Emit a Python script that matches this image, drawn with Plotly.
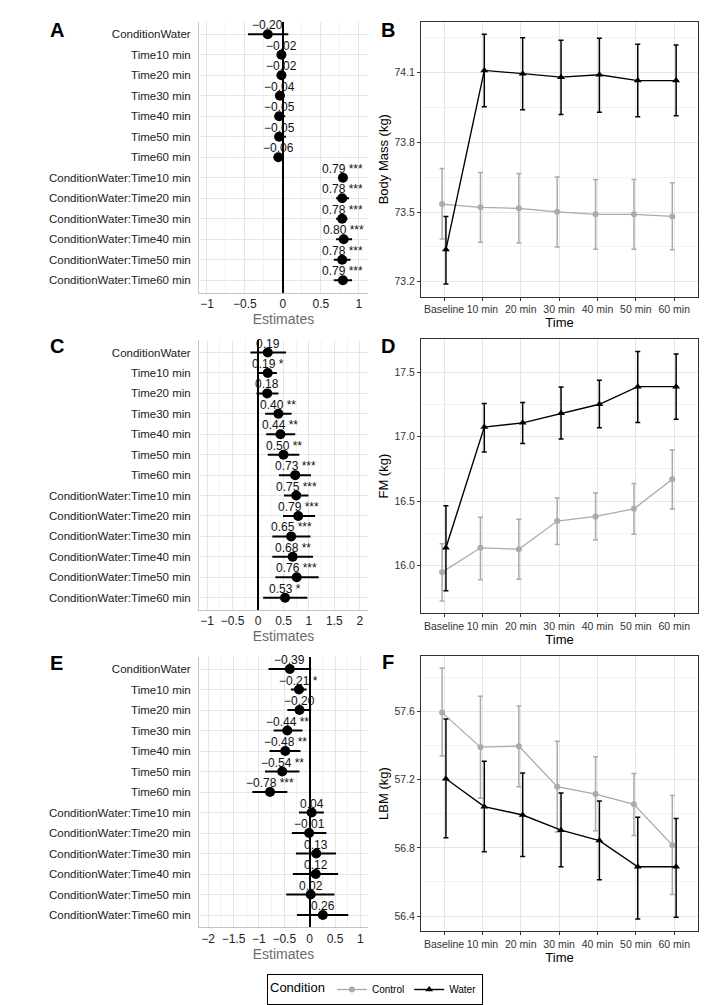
import plotly.graph_objects as go

W, H = 718, 1005
FONT = "Liberation Sans, Arial, sans-serif"

# ---------------- forest-plot data ----------------
terms = ["ConditionWater", "Time10 min", "Time20 min", "Time30 min", "Time40 min",
         "Time50 min", "Time60 min", "ConditionWater:Time10 min", "ConditionWater:Time20 min",
         "ConditionWater:Time30 min", "ConditionWater:Time40 min", "ConditionWater:Time50 min",
         "ConditionWater:Time60 min"]

a_est = [-0.20, -0.02, -0.02, -0.04, -0.05, -0.05, -0.06, 0.79, 0.78, 0.78, 0.80, 0.78, 0.79]
a_lo = [-0.46, -0.05, -0.05, -0.075, -0.085, -0.09, -0.12, 0.74, 0.70, 0.70, 0.70, 0.67, 0.67]
a_hi = [0.07, 0.01, 0.01, 0.026, 0.03, 0.04, 0.01, 0.835, 0.87, 0.85, 0.91, 0.89, 0.91]
a_sig = ["", "", "", "", "", "", "", "***", "***", "***", "***", "***", "***"]

c_est = [0.19, 0.19, 0.18, 0.40, 0.44, 0.50, 0.73, 0.75, 0.79, 0.65, 0.68, 0.76, 0.53]
c_lo = [-0.15, 0.01, -0.03, 0.14, 0.16, 0.19, 0.41, 0.51, 0.49, 0.28, 0.28, 0.34, 0.10]
c_hi = [0.55, 0.37, 0.40, 0.66, 0.73, 0.81, 1.04, 0.99, 1.12, 1.03, 1.08, 1.19, 0.97]
c_sig = ["", "*", "", "**", "**", "**", "***", "***", "***", "***", "**", "***", "*"]

e_est = [-0.39, -0.21, -0.20, -0.44, -0.48, -0.54, -0.78, 0.04, -0.01, 0.13, 0.12, 0.02, 0.26]
e_lo = [-0.81, -0.37, -0.44, -0.71, -0.79, -0.88, -1.13, -0.21, -0.35, -0.27, -0.33, -0.46, -0.25]
e_hi = [0.03, -0.06, 0.03, -0.14, -0.18, -0.20, -0.44, 0.28, 0.33, 0.52, 0.56, 0.49, 0.76]
e_sig = ["", "*", "", "**", "**", "**", "***", "", "", "", "", "", ""]

# ---------------- line-plot data ----------------
times = ["Baseline", "10 min", "20 min", "30 min", "40 min", "50 min", "60 min"]

bm_ctrl = [73.534, 73.52, 73.516, 73.501, 73.49, 73.49, 73.481]
bm_ctrl_lo = [73.384, 73.37, 73.366, 73.349, 73.34, 73.34, 73.337]
bm_ctrl_hi = [73.687, 73.67, 73.666, 73.651, 73.64, 73.64, 73.626]
bm_water = [73.338, 74.11, 74.096, 74.081, 74.091, 74.066, 74.066]
bm_water_lo = [73.19, 73.953, 73.94, 73.92, 73.93, 73.91, 73.915]
bm_water_hi = [73.481, 74.266, 74.251, 74.24, 74.249, 74.223, 74.219]

fm_ctrl = [15.948, 16.137, 16.126, 16.345, 16.381, 16.44, 16.67]
fm_ctrl_lo = [15.724, 15.889, 15.892, 16.162, 16.198, 16.242, 16.438]
fm_ctrl_hi = [16.168, 16.374, 16.358, 16.523, 16.562, 16.637, 16.897]
fm_water = [16.137, 17.075, 17.108, 17.183, 17.252, 17.389, 17.389]
fm_water_lo = [15.804, 16.881, 16.948, 16.982, 17.069, 17.111, 17.136]
fm_water_hi = [16.464, 17.258, 17.265, 17.386, 17.438, 17.662, 17.642]

lbm_ctrl = [57.594, 57.391, 57.397, 57.159, 57.116, 57.056, 56.816]
lbm_ctrl_lo = [57.339, 57.091, 57.159, 56.893, 56.900, 56.872, 56.527]
lbm_ctrl_hi = [57.856, 57.690, 57.633, 57.426, 57.335, 57.237, 57.108]
lbm_water = [57.206, 57.042, 56.993, 56.904, 56.843, 56.689, 56.689]
lbm_water_lo = [56.859, 56.777, 56.749, 56.689, 56.613, 56.383, 56.392]
lbm_water_hi = [57.557, 57.309, 57.239, 57.122, 57.075, 56.980, 56.972]

GRAY = "#ababab"


def dx(a, b):
    return [a / W, b / W]


def dy(top, bottom):
    return [1 - bottom / H, 1 - top / H]


def fmt(v):
    s = f"{abs(v):.2f}"
    return ("\u2212" + s) if v < 0 else s


fig = go.Figure()
ann = []

forest = [
    ("x", "y", a_est, a_lo, a_hi, a_sig),
    ("x2", "y2", c_est, c_lo, c_hi, c_sig),
    ("x3", "y3", e_est, e_lo, e_hi, e_sig),
]
rows = list(range(len(terms)))
for xa, ya, est, lo, hi, sig in forest:
    labels = [(fmt(v) + (" " + s if s else "")) for v, s in zip(est, sig)]
    fig.add_trace(go.Scatter(
        x=est, y=rows, xaxis=xa, yaxis=ya, mode="markers",
        marker=dict(size=10, color="black"),
        error_x=dict(type="data", symmetric=False,
                     array=[h - e for h, e in zip(hi, est)],
                     arrayminus=[e - l for e, l in zip(est, lo)],
                     color="black", thickness=2, width=0),
        cliponaxis=False, showlegend=False, hoverinfo="skip"))
    for v, r, lab in zip(est, rows, labels):
        ann.append(dict(text=lab, x=v, y=r, xref=xa, yref=ya, showarrow=False,
                        xanchor="center", yanchor="middle", yshift=9,
                        font=dict(size=12, color="#111111", family=FONT)))

lines = [
    ("x4", "y4", bm_ctrl, bm_ctrl_lo, bm_ctrl_hi, bm_water, bm_water_lo, bm_water_hi, True),
    ("x5", "y5", fm_ctrl, fm_ctrl_lo, fm_ctrl_hi, fm_water, fm_water_lo, fm_water_hi, False),
    ("x6", "y6", lbm_ctrl, lbm_ctrl_lo, lbm_ctrl_hi, lbm_water, lbm_water_lo, lbm_water_hi, False),
]
dodge = 0.05
idx = list(range(len(times)))
for xa, ya, cm, cl, ch, wm, wl, wh, leg in lines:
    fig.add_trace(go.Scatter(
        x=[i - dodge for i in idx], y=cm, xaxis=xa, yaxis=ya, mode="lines+markers",
        name="Control", legendgroup="c", showlegend=leg,
        line=dict(color=GRAY, width=1.3), marker=dict(color=GRAY, size=6, symbol="circle"),
        error_y=dict(type="data", symmetric=False,
                     array=[h - m for h, m in zip(ch, cm)],
                     arrayminus=[m - l for m, l in zip(cm, cl)],
                     color=GRAY, thickness=1.5, width=2.5)))
    fig.add_trace(go.Scatter(
        x=[i + dodge for i in idx], y=wm, xaxis=xa, yaxis=ya, mode="lines+markers",
        name="Water", legendgroup="w", showlegend=leg,
        line=dict(color="black", width=1.4), marker=dict(color="black", size=7, symbol="triangle-up"),
        error_y=dict(type="data", symmetric=False,
                     array=[h - m for h, m in zip(wh, wm)],
                     arrayminus=[m - l for m, l in zip(wm, wl)],
                     color="black", thickness=1.5, width=2.5)))

grid = "#e6e6e6"
mgrid = "#f2f2f2"

forest_x = [("xaxis", "y", [-1.105, 1.12], (199, 368)),
            ("xaxis2", "y2", [-1.16, 2.16], (199, 368)),
            ("xaxis3", "y3", [-2.18, 1.15], (199, 368))]
forest_y = [("yaxis", "x", (22, 294)), ("yaxis2", "x2", (342, 613)), ("yaxis3", "x3", (660, 932))]

lay = {}
for (xn, anch, rng, (l, r)), (yn, yanch, (t, b)) in zip(forest_x, forest_y):
    lay[xn] = dict(domain=dx(l, r), anchor=anch, range=rng, dtick=0.5, tick0=0,
                   showgrid=True, gridcolor=grid, gridwidth=1,
                   minor=dict(dtick=0.25, tick0=0, showgrid=True, gridcolor=mgrid, gridwidth=1),
                   zeroline=True, zerolinecolor="black", zerolinewidth=1.5,
                   showline=True, linecolor="#c4c4c4", linewidth=1, ticks="",
                   tickfont=dict(size=12, color="#222222", family=FONT),
                   title=dict(text="Estimates", standoff=2,
                              font=dict(size=14, color="#6b6b6b", family=FONT)))
    lay[yn] = dict(domain=dy(t, b), anchor=yanch, range=[12.6, -0.6],
                   tickvals=rows, ticktext=terms, showgrid=True, gridcolor=grid,
                   zeroline=False, showline=True, linecolor="#c4c4c4", linewidth=1,
                   ticks="outside", ticklen=5, tickcolor="rgba(0,0,0,0)",
                   tickfont=dict(size=11.5, color="#1a1a1a", family=FONT))

line_axes = [("xaxis4", "yaxis4", "x4", "y4", (22, 298), [73.136, 74.319], 73.2, 0.3, "Body Mass (kg)", ".1f"),
             ("xaxis5", "yaxis5", "x5", "y5", (341, 616), [15.631, 17.757], 16.0, 0.5, "FM (kg)", ".1f"),
             ("xaxis6", "yaxis6", "x6", "y6", (659, 936), [56.31, 57.928], 56.4, 0.4, "LBM (kg)", ".1f")]
for xn, yn, xa, ya, (t, b), yr, t0, dt, ttl, tf in line_axes:
    lay[xn] = dict(domain=dx(421, 698), anchor=ya, range=[-0.6, 6.62],
                   tickvals=idx, ticktext=times, showgrid=True, gridcolor=grid,
                   zeroline=False, showline=True, mirror=True, linecolor="#333333", linewidth=1,
                   ticks="outside", ticklen=3, tickcolor="#333333",
                   tickfont=dict(size=10.5, color="#333333", family=FONT),
                   title=dict(text="Time", standoff=2, font=dict(size=13, color="black", family=FONT)))
    lay[yn] = dict(domain=dy(t, b), anchor=xa, range=yr, tick0=t0, dtick=dt, tickformat=tf,
                   showgrid=True, gridcolor=grid,
                   minor=dict(dtick=dt / 2, tick0=t0, showgrid=True, gridcolor=mgrid),
                   zeroline=False, showline=True, mirror=True, linecolor="#333333", linewidth=1,
                   ticks="outside", ticklen=3, tickcolor="#333333",
                   tickfont=dict(size=10.5, color="#333333", family=FONT),
                   title=dict(text=ttl, standoff=2, font=dict(size=13, color="black", family=FONT)))

letters = [("A", 57, 30), ("B", 388, 30), ("C", 57, 348), ("D", 388, 348), ("E", 57, 666), ("F", 388, 665)]
ann += [dict(text=f"<b>{L}</b>", x=px / W, y=1 - py / H, xref="paper", yref="paper",
             showarrow=False, xanchor="center", yanchor="middle",
             font=dict(size=20, color="black", family=FONT)) for L, px, py in letters]

fig.update_layout(
    width=W, height=H, margin=dict(l=0, r=0, t=0, b=0),
    paper_bgcolor="white", plot_bgcolor="white",
    font=dict(family=FONT),
    annotations=ann,
    legend=dict(orientation="h", x=375 / W, xanchor="center", y=1 - 979 / H, yanchor="top",
                title=dict(text="Condition", font=dict(size=13, color="black", family=FONT)),
                font=dict(size=10, color="black", family=FONT), itemwidth=30,
                bordercolor="black", borderwidth=1, bgcolor="white"),
    **lay)

fig.write_html("out.html", config={"displayModeBar": False},
               post_script="document.body.style.margin='0';document.body.style.overflow='hidden';")
